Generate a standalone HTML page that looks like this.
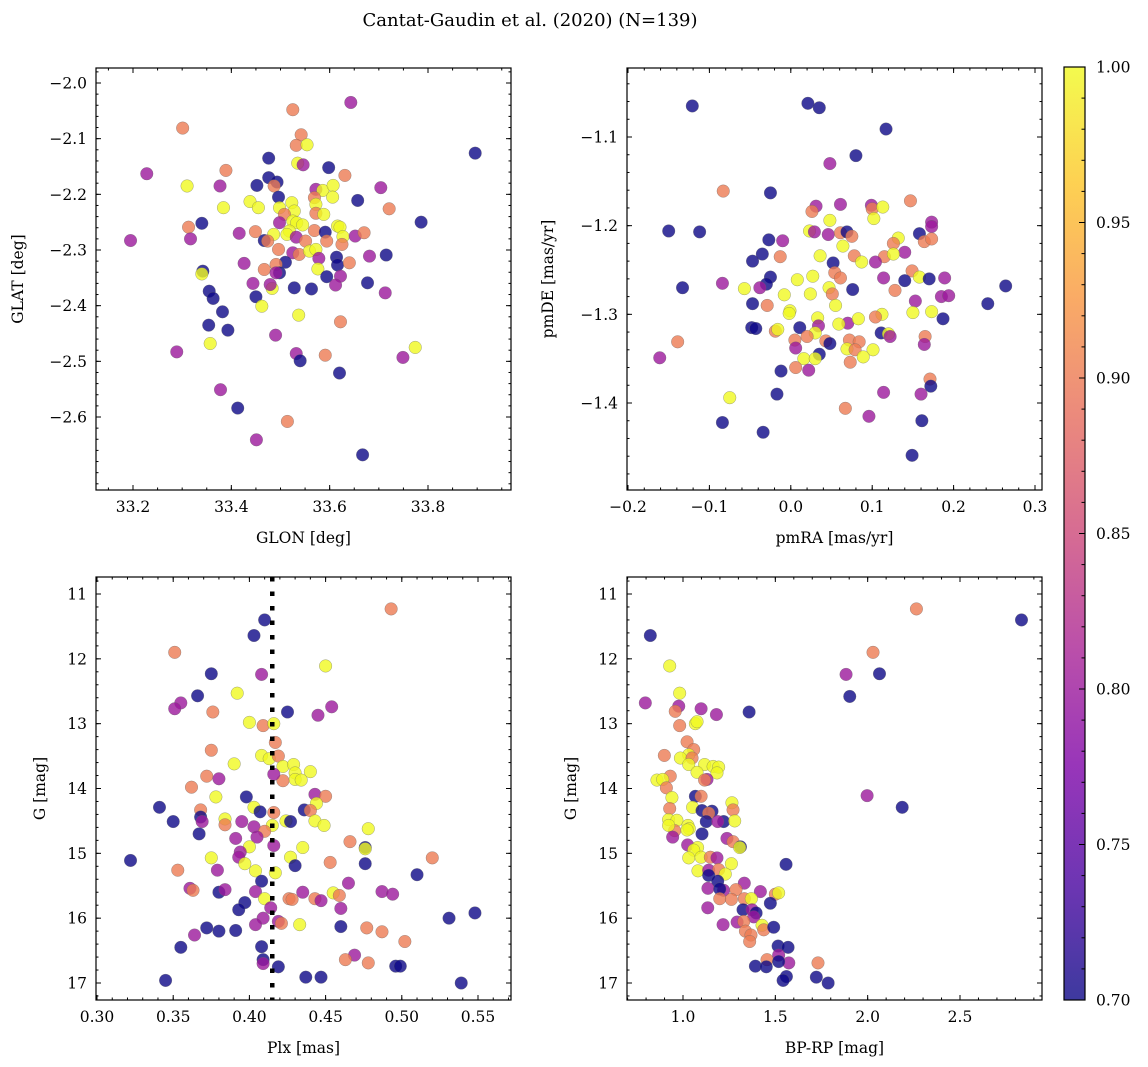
<!DOCTYPE html>
<html><head><meta charset="utf-8"><style>
html,body{margin:0;padding:0;background:#fff}
svg{display:block;font-family:"DejaVu Serif","Liberation Serif",serif}
</style></head><body>
<svg id="fig" width="1148" height="1067" viewBox="0 0 1148 1067">
<text x="530" y="26" font-size="18" text-anchor="middle">Cantat-Gaudin et al. (2020) (N=139)</text>
<defs><linearGradient id="plasma" x1="0" y1="1" x2="0" y2="0">
<stop offset="0" stop-color="#0d0887"/><stop offset="0.125" stop-color="#4903a0"/><stop offset="0.25" stop-color="#7e03a8"/><stop offset="0.375" stop-color="#a92395"/><stop offset="0.5" stop-color="#cc4778"/><stop offset="0.625" stop-color="#e66c5c"/><stop offset="0.75" stop-color="#f89540"/><stop offset="0.875" stop-color="#fdc527"/><stop offset="1" stop-color="#f0f921"/>
</linearGradient></defs>
</svg>
<script>
// ---- data: panel 1 (GLON / GLAT) ----
const glon=[33.643,33.525,33.301,33.542,33.532,33.554,33.896,33.476,33.535,33.546,33.598,33.228,33.389,33.631,33.476,33.493,33.452,33.377,33.310,33.487,33.572,33.586,33.607,33.606,33.704,33.496,33.657,33.569,33.438,33.455,33.384,33.523,33.498,33.528,33.572,33.572,33.588,33.721,33.508,33.340,33.313,33.786,33.498,33.525,33.533,33.545,33.518,33.616,33.621,33.195,33.317,33.416,33.449,33.486,33.513,33.569,33.591,33.627,33.652,33.670,33.467,33.474,33.532,33.551,33.594,33.625,33.496,33.525,33.538,33.559,33.572,33.578,33.614,33.616,33.640,33.681,33.715,33.426,33.510,33.491,33.467,33.498,33.491,33.576,33.342,33.340,33.594,33.622,33.677,33.444,33.528,33.563,33.612,33.483,33.479,33.713,33.355,33.363,33.450,33.462,33.382,33.537,33.622,33.354,33.393,33.490,33.357,33.774,33.289,33.532,33.540,33.591,33.749,33.620,33.378,33.413,33.514,33.451,33.667];
const glat=[-2.035,-2.048,-2.081,-2.093,-2.112,-2.111,-2.126,-2.135,-2.144,-2.147,-2.152,-2.163,-2.157,-2.166,-2.170,-2.178,-2.184,-2.185,-2.185,-2.185,-2.191,-2.193,-2.184,-2.205,-2.188,-2.205,-2.211,-2.206,-2.213,-2.224,-2.224,-2.215,-2.224,-2.230,-2.218,-2.234,-2.236,-2.226,-2.236,-2.252,-2.259,-2.250,-2.251,-2.248,-2.251,-2.255,-2.266,-2.257,-2.259,-2.283,-2.280,-2.270,-2.267,-2.272,-2.272,-2.265,-2.268,-2.276,-2.275,-2.269,-2.283,-2.284,-2.277,-2.284,-2.284,-2.290,-2.299,-2.305,-2.308,-2.302,-2.299,-2.315,-2.313,-2.327,-2.323,-2.311,-2.309,-2.324,-2.322,-2.326,-2.335,-2.341,-2.341,-2.334,-2.338,-2.343,-2.348,-2.347,-2.359,-2.360,-2.368,-2.370,-2.363,-2.369,-2.362,-2.377,-2.374,-2.387,-2.384,-2.401,-2.411,-2.417,-2.429,-2.435,-2.444,-2.453,-2.468,-2.475,-2.483,-2.486,-2.499,-2.489,-2.493,-2.521,-2.551,-2.584,-2.608,-2.641,-2.668];
const prob1="mssssybbym"+"bmssbbbmys"+"myyymbbsyy"+"yyyyysyssb"+"sbmyyyyyym"+"mmsyysbyms"+"bsmssssmsy"+"ymbbsmbmbs"+"sbmybybmbm"+"bbmymmbbby"+"bysbbmyymm"+"bsmbmbsmb";
// ---- data: panel 2 (pmRA / pmDE) ----
const pmra=[-0.121,0.021,0.035,0.117,0.080,0.048,-0.083,-0.025,0.147,0.031,0.026,0.061,0.099,0.100,0.113,0.102,0.048,0.173,0.173,-0.150,-0.112,0.023,0.029,0.046,0.061,0.069,0.075,0.158,0.164,0.173,-0.027,-0.010,0.064,0.132,0.126,0.140,-0.035,-0.047,-0.013,0.036,0.078,0.087,0.115,0.126,0.104,0.052,0.054,0.061,0.149,0.158,0.170,0.189,0.114,0.140,0.264,-0.133,-0.084,-0.025,-0.030,-0.038,-0.057,0.008,0.027,0.047,0.051,0.076,0.128,-0.008,0.024,0.153,0.185,0.194,0.242,-0.047,-0.029,0.055,-0.001,-0.002,0.112,0.104,0.150,0.173,0.187,0.033,0.070,0.059,0.083,-0.048,-0.043,0.011,0.034,-0.019,-0.016,0.030,0.020,0.005,0.111,0.120,0.122,0.165,0.164,-0.139,0.043,0.048,0.072,0.084,0.006,0.069,0.079,0.101,0.089,-0.161,0.035,0.016,0.030,0.073,0.006,0.022,-0.012,0.171,0.172,0.114,0.160,-0.017,-0.075,0.067,0.096,-0.084,0.161,-0.034,0.149];
const pmde=[-1.065,-1.062,-1.067,-1.091,-1.121,-1.130,-1.161,-1.163,-1.172,-1.178,-1.184,-1.176,-1.177,-1.181,-1.179,-1.192,-1.194,-1.196,-1.201,-1.206,-1.207,-1.206,-1.207,-1.210,-1.208,-1.207,-1.212,-1.209,-1.218,-1.215,-1.216,-1.217,-1.223,-1.214,-1.220,-1.230,-1.232,-1.240,-1.235,-1.234,-1.234,-1.241,-1.235,-1.232,-1.241,-1.242,-1.253,-1.259,-1.251,-1.258,-1.260,-1.259,-1.259,-1.262,-1.268,-1.270,-1.265,-1.258,-1.266,-1.270,-1.271,-1.261,-1.257,-1.270,-1.277,-1.272,-1.273,-1.278,-1.277,-1.285,-1.280,-1.279,-1.288,-1.288,-1.290,-1.290,-1.296,-1.299,-1.300,-1.303,-1.298,-1.297,-1.305,-1.304,-1.310,-1.311,-1.305,-1.315,-1.316,-1.315,-1.313,-1.319,-1.317,-1.321,-1.325,-1.329,-1.321,-1.322,-1.325,-1.325,-1.334,-1.331,-1.330,-1.333,-1.329,-1.331,-1.338,-1.339,-1.340,-1.340,-1.348,-1.349,-1.345,-1.350,-1.350,-1.354,-1.360,-1.363,-1.364,-1.373,-1.381,-1.388,-1.390,-1.390,-1.394,-1.406,-1.415,-1.422,-1.420,-1.433,-1.459];
const prob2="bbbbbmsbsm"+"smmsyyymmb"+"bymmsbsbss"+"bmyysmbbsy"+"sysymbsssy"+"bmmbbbmbbm"+"yyyysbsyym"+"mmbbsyyyys"+"yybymyybbb"+"msyyssbyms"+"mssbssmysy"+"ymbyyssmbs"+"bmmbysmbbbb";
// ---- data: panel 3 (Plx / G) ----
const plx=[0.493,0.410,0.403,0.351,0.450,0.375,0.408,0.392,0.366,0.355,0.351,0.376,0.425,0.454,0.445,0.400,0.409,0.416,0.417,0.375,0.408,0.413,0.419,0.390,0.422,0.429,0.440,0.430,0.430,0.434,0.422,0.416,0.372,0.380,0.362,0.398,0.378,0.443,0.450,0.444,0.341,0.368,0.403,0.407,0.416,0.436,0.440,0.368,0.369,0.350,0.384,0.384,0.395,0.424,0.427,0.443,0.415,0.449,0.403,0.410,0.405,0.367,0.391,0.478,0.466,0.476,0.476,0.416,0.400,0.435,0.394,0.393,0.322,0.375,0.427,0.520,0.453,0.476,0.430,0.397,0.353,0.379,0.404,0.417,0.510,0.408,0.465,0.361,0.363,0.380,0.384,0.404,0.435,0.455,0.459,0.487,0.494,0.410,0.426,0.428,0.443,0.447,0.397,0.393,0.460,0.414,0.409,0.531,0.548,0.419,0.421,0.433,0.404,0.372,0.380,0.391,0.460,0.477,0.487,0.364,0.502,0.355,0.408,0.469,0.463,0.478,0.409,0.409,0.419,0.496,0.499,0.345,0.437,0.447,0.539];
const gmag3=[11.23,11.40,11.64,11.90,12.11,12.23,12.24,12.53,12.57,12.68,12.77,12.82,12.82,12.74,12.87,12.98,13.03,13.00,13.29,13.41,13.49,13.54,13.50,13.62,13.66,13.63,13.74,13.76,13.86,13.87,13.88,13.78,13.81,13.85,13.98,14.13,14.13,14.09,14.12,14.23,14.29,14.33,14.29,14.36,14.37,14.33,14.34,14.44,14.51,14.51,14.47,14.56,14.51,14.50,14.51,14.50,14.57,14.57,14.59,14.66,14.75,14.70,14.77,14.62,14.82,14.91,14.93,14.88,14.90,14.91,14.98,15.06,15.11,15.07,15.06,15.07,15.14,15.16,15.19,15.16,15.26,15.26,15.27,15.30,15.33,15.43,15.46,15.54,15.57,15.60,15.56,15.59,15.60,15.61,15.65,15.59,15.63,15.70,15.70,15.71,15.70,15.73,15.76,15.87,15.85,15.84,16.00,16.00,15.92,16.05,16.08,16.10,16.10,16.15,16.20,16.19,16.13,16.15,16.21,16.26,16.36,16.45,16.44,16.57,16.64,16.69,16.64,16.70,16.75,16.74,16.74,16.96,16.91,16.91,17.00];
const prob3="sbbsybmybm"+"msbmmysyss"+"yysyyyyyyy"+"smsmsbymsy"+"bsybsbsbmb"+"ysmybyyyms"+"mbmysbymyy"+"mmbyyssbby"+"smyybbmmsb"+"mmmysmmyss"+"smbbmmmbbm"+"symbbbbssm"+"sbbmssbmbb"+"bbbbb";
const plxLine=[0.415];
// ---- data: panel 4 (BP-RP / G) ----
const bprp=[2.264,2.833,0.823,2.029,0.928,1.883,2.064,1.903,0.982,0.796,0.977,0.958,1.098,1.181,1.358,0.982,1.067,1.076,1.022,1.058,0.899,1.031,0.986,1.049,1.031,1.117,1.163,1.193,1.184,0.931,1.076,1.130,1.117,0.859,0.890,0.910,0.940,1.997,2.187,1.067,1.098,0.928,1.052,1.103,1.157,1.139,1.265,1.271,1.126,1.220,1.188,1.280,0.922,0.967,0.955,0.922,1.027,1.034,1.022,0.944,1.103,1.238,1.271,1.311,1.307,1.025,1.079,1.058,1.031,1.098,1.148,1.184,1.558,1.262,1.081,1.139,1.193,1.229,1.139,1.188,1.332,1.135,1.220,1.199,1.287,1.419,1.500,1.518,1.199,1.262,1.332,1.370,1.473,1.134,1.325,1.374,1.396,1.383,1.293,1.329,1.217,1.428,1.437,1.491,1.338,1.368,1.361,1.515,1.569,1.518,1.455,1.573,1.518,1.731,1.392,1.451,1.560,1.542,1.722,1.786];
const gmag4=[11.23,11.40,11.64,11.90,12.11,12.24,12.23,12.58,12.53,12.68,12.73,12.81,12.77,12.86,12.82,13.03,13.00,12.97,13.28,13.40,13.49,13.48,13.53,13.53,13.63,13.63,13.66,13.67,13.76,13.81,13.75,13.86,13.87,13.87,13.86,13.99,14.14,14.11,14.29,14.12,14.12,14.31,14.29,14.34,14.35,14.38,14.22,14.33,14.51,14.51,14.51,14.50,14.48,14.49,14.65,14.57,14.57,14.62,14.64,14.75,14.70,14.77,14.82,14.90,14.91,14.87,14.91,14.95,15.07,15.06,15.06,15.07,15.17,15.16,15.27,15.26,15.25,15.32,15.34,15.43,15.46,15.54,15.57,15.55,15.56,15.59,15.63,15.61,15.70,15.71,15.70,15.70,15.77,15.84,15.87,15.87,15.92,15.98,16.06,16.05,16.10,16.11,16.18,16.14,16.20,16.26,16.36,16.43,16.45,16.57,16.64,16.69,16.67,16.69,16.74,16.75,16.90,16.96,16.91,17.00];
const prob4="sbbsymbbym"+"msmmbsyyss"+"syysyyyyys"+"ymsyysymbb"+"ssybbsysbb"+"myyysyyyym"+"bmsbymyyyy"+"smbyymsybb"+"mmmbsmsyss"+"sybmbmbmms"+"mysbsssbbm"+"smbsbbbbbb";
// ---- tick labels ----
const ticks1x=["33.2","33.4","33.6","33.8"], ticks1y=["−2.0","−2.1","−2.2","−2.3","−2.4","−2.5","−2.6"];
const ticks2x=["−0.2","−0.1","0.0","0.1","0.2","0.3"], ticks2y=["−1.1","−1.2","−1.3","−1.4"];
const ticks3x=["0.30","0.35","0.40","0.45","0.50","0.55"], ticksGy=["11","12","13","14","15","16","17"];
const ticks4x=["1.0","1.5","2.0","2.5"];
const cbTicks=["0.70","0.75","0.80","0.85","0.90","0.95","1.00"];
const probLevels={b:0.70,m:0.80,s:0.90,y:1.00};

const NS="http://www.w3.org/2000/svg";
const svg=document.getElementById('fig');
function mk(tag,attrs,parent){const e=document.createElementNS(NS,tag);for(const k in attrs)e.setAttribute(k,attrs[k]);(parent||svg).appendChild(e);return e;}
function lin(d0,d1,r0,r1){return v=>r0+(v-d0)*(r1-r0)/(d1-d0);}
const stops=[[13,8,135],[73,3,160],[126,3,168],[169,35,149],[204,71,120],[230,108,92],[248,149,64],[253,197,39],[240,249,33]];
function plasma(t){if(!isFinite(t))t=0;t=Math.max(0,Math.min(1,t));const f=t*8,i=Math.min(7,Math.floor(f)),u=f-i;const a=stops[i],b=stops[i+1];return `rgb(${a.map((c,k)=>Math.round(c+(b[k]-c)*u)).join(',')})`;}
function cnorm(p){return (p-0.70)/0.30;}

function panel(cfg){
  const {L,T,R,B,sx,sy,xt,yt,xmin,ymin,xs,ys,xlab,ylab,ylx,name}=cfg;
  const g=mk('g',{});
  
  
  const clip=mk('clipPath',{id:'c'+name},g);mk('rect',{x:L,y:T,width:R-L,height:B-T},clip);
  const pts=mk('g',{'clip-path':`url(#c${name})`},g);
  
  
  cfg.xd.forEach((xv,i)=>{
    const lv=probLevels[cfg.pd[i]]||0.70;
    const c=mk('circle',{cx:sx(xv),cy:sy(cfg.yd[i]),r:6.3,fill:plasma(cnorm(lv)),'fill-opacity':0.8,stroke:'#666','stroke-opacity':0.6,'stroke-width':0.5},pts);
    
    
  });
  if(cfg.vline){cfg.vline.forEach(v=>{const l=mk('line',{x1:sx(v),x2:sx(v),y1:T,y2:B,stroke:'#000','stroke-width':4.5,'stroke-dasharray':'4.5 10'},g);
    
    });}
  const tk=mk('g',{stroke:'#000','stroke-width':1},g);
  for(let v=xmin.a;v<=xmin.b+1e-9;v+=xmin.s){const x=sx(v);if(x<L-0.5||x>R+0.5)continue;mk('line',{x1:x,x2:x,y1:B,y2:B-2.5},tk);mk('line',{x1:x,x2:x,y1:T,y2:T+2.5},tk);}
  for(let v=ymin.a;v<=ymin.b+1e-9;v+=ymin.s){const y=sy(v);if(y<T-0.5||y>B+0.5)continue;mk('line',{x1:L,x2:L+2.5,y1:y,y2:y},tk);mk('line',{x1:R,x2:R-2.5,y1:y,y2:y},tk);}
  xt.forEach((lab,i)=>{const x=sx(xs[i]);mk('line',{x1:x,x2:x,y1:B,y2:B-5},tk);mk('line',{x1:x,x2:x,y1:T,y2:T+5},tk);
    const t=mk('text',{x:x,y:B+22,'font-size':15.5,'text-anchor':'middle'},g);t.textContent=lab;
    
    });
  yt.forEach((lab,i)=>{const y=sy(ys[i]);mk('line',{x1:L,x2:L+5,y1:y,y2:y},tk);mk('line',{x1:R,x2:R-5,y1:y,y2:y},tk);
    const t=mk('text',{x:L-9,y:y+5.5,'font-size':15.5,'text-anchor':'end'},g);t.textContent=lab;
    
    });
  const fr=mk('rect',{x:L,y:T,width:R-L,height:B-T,fill:'none',stroke:'#000','stroke-width':1.2},g);
  
  
  const xl=mk('text',{x:(L+R)/2,y:B+53,'font-size':15.5,'text-anchor':'middle'},g);xl.textContent=xlab;
  
  
  const cy=(T+B)/2;
  const yl=mk('text',{x:ylx,y:cy,'font-size':15.5,'text-anchor':'middle',transform:`rotate(-90 ${ylx} ${cy})`},g);yl.textContent=ylab;
  
  
}
const num=a=>a.map(s=>parseFloat(s.replace('−','-')));

panel({name:'glon-glat-panel',L:96,T:68,R:511,B:490,sx:lin(33.2,33.8,133,428),sy:lin(-2.0,-2.6,83,417),
  xd:glon,yd:glat,pd:prob1,xt:ticks1x,xs:num(ticks1x),yt:ticks1y,ys:num(ticks1y),
  xmin:{a:33.0,b:34.0,s:0.05},ymin:{a:-2.8,b:-1.9,s:0.02},xlab:'GLON [deg]',ylab:'GLAT [deg]',ylx:23});
panel({name:'pm-panel',L:627,T:68,R:1042,B:490,sx:lin(-0.2,0.3,628,1035),sy:lin(-1.1,-1.4,137,403),
  xd:pmra,yd:pmde,pd:prob2,xt:ticks2x,xs:num(ticks2x),yt:ticks2y,ys:num(ticks2y),
  xmin:{a:-0.3,b:0.4,s:0.02},ymin:{a:-1.6,b:-0.9,s:0.02},xlab:'pmRA [mas/yr]',ylab:'pmDE [mas/yr]',ylx:553});
panel({name:'plx-g-panel',L:96,T:577,R:511,B:1000,sx:lin(0.30,0.55,97,478),sy:lin(11,17,594,983),
  xd:plx,yd:gmag3,pd:prob3,xt:ticks3x,xs:num(ticks3x),yt:ticksGy,ys:num(ticksGy),vline:plxLine,
  xmin:{a:0.25,b:0.6,s:0.01},ymin:{a:10,b:18,s:0.2},xlab:'Plx [mas]',ylab:'G [mag]',ylx:45});
panel({name:'cmd-panel',L:627,T:577,R:1042,B:1000,sx:lin(1.0,2.5,683,960),sy:lin(11,17,594,983),
  xd:bprp,yd:gmag4,pd:prob4,xt:ticks4x,xs:num(ticks4x),yt:ticksGy,ys:num(ticksGy),
  xmin:{a:0.5,b:3.0,s:0.1},ymin:{a:10,b:18,s:0.2},xlab:'BP-RP [mag]',ylab:'G [mag]',ylx:576});

const cb=mk('g',{});


const cbY=lin(0.70,1.00,1000,67);
mk('rect',{x:1064,y:67,width:21,height:933,fill:'url(#plasma)','fill-opacity':0.8},cb);
mk('rect',{x:1064,y:67,width:21,height:933,fill:'none',stroke:'#000','stroke-width':1.2},cb);
for(let v=0.70;v<=1.0001;v+=0.01){const y=cbY(v);mk('line',{x1:1085,x2:1081.5,y1:y,y2:y,stroke:'#000'},cb);}
cbTicks.forEach(l=>{const y=cbY(parseFloat(l));mk('line',{x1:1085,x2:1079,y1:y,y2:y,stroke:'#000'},cb);
  const t=mk('text',{x:1096,y:y+5.5,'font-size':15.5},cb);t.textContent=l;
  
  });
</script>
</body></html>
